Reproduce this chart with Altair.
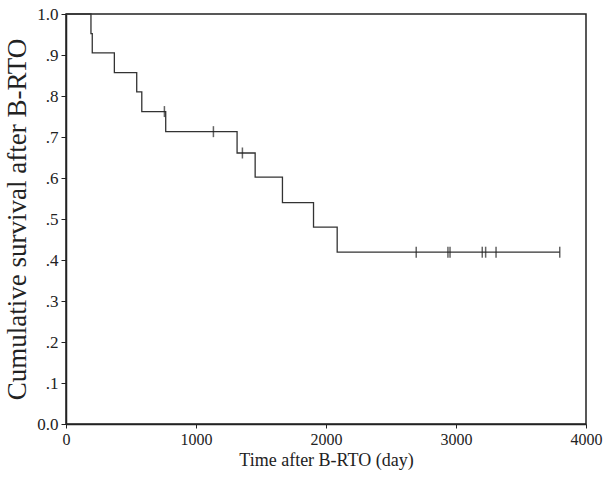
import altair as alt
import pandas as pd

# Kaplan-Meier step points (time in days, cumulative survival)
step_days = [0, 192, 202, 372, 544, 583, 767, 1316, 1455, 1665, 1904, 2086, 3798]
step_surv = [1.0, 0.952, 0.905, 0.857, 0.810, 0.762, 0.713, 0.661, 0.602, 0.540, 0.480, 0.419, 0.419]

# Censored observations
cens_days = [757, 1134, 1357, 2694, 2938, 2954, 3202, 3228, 3308, 3798]
cens_surv = [0.762, 0.713, 0.661, 0.419, 0.419, 0.419, 0.419, 0.419, 0.419, 0.419]

x_ticks = [0, 1000, 2000, 3000, 4000]
y_ticks = [0.0, 0.1, 0.2, 0.3, 0.4, 0.5, 0.6, 0.7, 0.8, 0.9, 1.0]

steps = pd.DataFrame({"day": step_days, "surv": step_surv})
cens = pd.DataFrame({"day": cens_days, "surv": cens_surv})

FONT = "Liberation Serif"
INK = "#222222"

x_enc = alt.X(
    "day:Q",
    scale=alt.Scale(domain=[0, 4000], nice=False),
    axis=alt.Axis(
        values=x_ticks, format="d", title="Time after B-RTO (day)", grid=False,
        labelFont=FONT, labelFontSize=16, labelColor=INK, labelPadding=3,
        titleFont=FONT, titleFontSize=18, titleFontWeight="normal", titleColor=INK,
        titlePadding=4, tickSize=4, tickColor=INK, domainColor=INK, domainWidth=1.5,
        labelFlush=False,
    ),
)
y_enc = alt.Y(
    "surv:Q",
    scale=alt.Scale(domain=[0, 1], nice=False),
    axis=alt.Axis(
        values=y_ticks, title="Cumulative survival after B-RTO", grid=False,
        labelExpr="datum.value == 1 ? '1.0' : (datum.value == 0 ? '0.0' : replace(format(datum.value, '.1f'), '0.', '.'))",
        labelFont=FONT, labelFontSize=17, labelColor=INK, labelPadding=3,
        titleFont=FONT, titleFontSize=27, titleFontWeight="normal", titleColor=INK,
        titlePadding=5, tickSize=5, tickColor=INK, domainColor=INK, domainWidth=1.5,
        labelFlush=False,
    ),
)

line = alt.Chart(steps).mark_line(
    interpolate="step-after", color="#333333", strokeWidth=1.3
).encode(x=x_enc, y=y_enc)

ticks = alt.Chart(cens).mark_tick(
    orient="vertical", color="#222222", size=11, thickness=1.5
).encode(x="day:Q", y="surv:Q")

chart = (line + ticks).properties(
    width=520,
    height=410,
    autosize=alt.AutoSizeParams(type="none"),
    padding={"left": 66, "top": 14, "right": 17, "bottom": 54},
    background="white",
).configure_view(stroke=INK, strokeWidth=1.5)

chart.save("out.html", embed_options={"renderer": "svg", "actions": False})
